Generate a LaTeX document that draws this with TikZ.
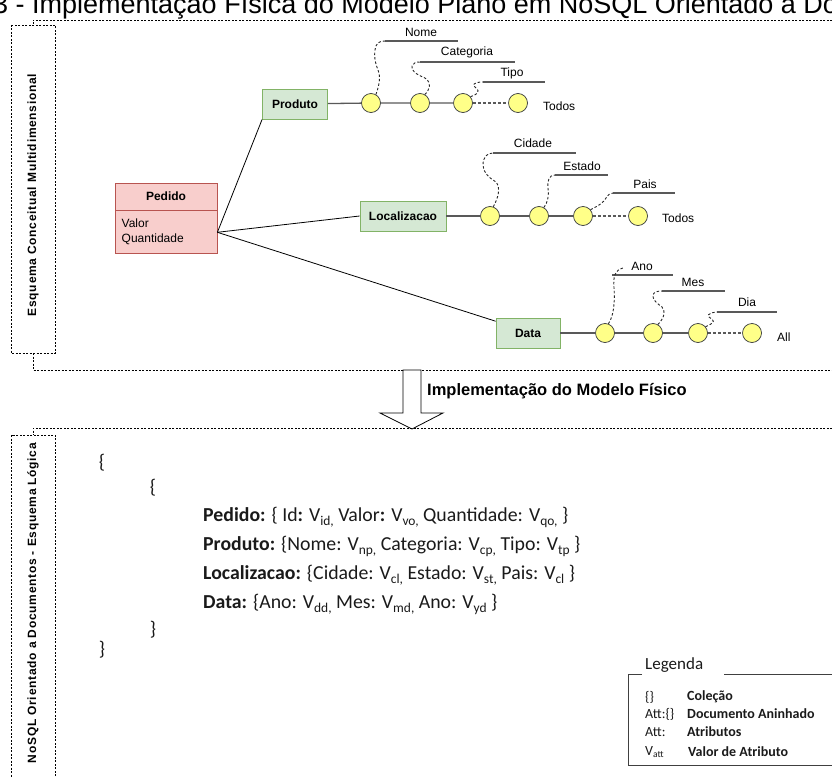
\documentclass[tikz,border=0pt]{standalone}
\usepackage{fontspec}
\setmainfont{Liberation Sans}
\newfontfamily\calfont{Carlito}
\definecolor{pedfill}{HTML}{F8CECC}
\definecolor{pedline}{HTML}{B85450}
\definecolor{dimfill}{HTML}{D5E8D4}
\definecolor{dimline}{HTML}{82B366}
\definecolor{lvlfill}{HTML}{FFFF88}
\definecolor{lvlline}{HTML}{36393D}
\definecolor{chaingray}{HTML}{595959}
\definecolor{codeink}{HTML}{1A1A1A}
\newcommand{\fs}[1]{\fontsize{#1}{#1}\selectfont}
% value with a lowered, reduced index
\newcommand{\vv}[1]{V\raisebox{-0.2em}{\scalebox{0.68}{#1}}}
\tikzset{
  frame/.style={draw=black, line width=0.6pt, dash pattern=on 2pt off 1.5pt},
  sidelabel/.style={rotate=90, inner sep=0, font=\fs{12}\bfseries\addfontfeature{LetterSpace=6}},
  dimbox/.style={draw=dimline, fill=dimfill, line width=0.8pt, font=\fs{12}\bfseries, inner sep=0},
  lvl/.style={circle, draw=lvlline, fill=lvlfill, minimum size=19pt, inner sep=0, line width=0.7pt},
  chain/.style={draw=chaingray, line width=1.3pt},
  chaindash/.style={chain, dash pattern=on 3pt off 2pt},
  attcurve/.style={draw=black!85, line width=0.9pt, dash pattern=on 2.5pt off 2pt},
  attline/.style={draw=chaingray, line width=1.2pt},
  attlbl/.style={font=\fs{12}, inner sep=0},
  link/.style={draw=black, line width=0.8pt},
  codeline/.style={anchor=west, inner sep=0, text=codeink, font=\calfont\fs{19.8}},
  legline/.style={draw=black!75, line width=0.9pt},
  legkey/.style={anchor=west, inner sep=0, text=codeink, font=\calfont\fs{14}},
  legdesc/.style={anchor=west, inner sep=0, text=codeink, font=\calfont\fs{14}\bfseries},
}
\begin{document}
\begin{tikzpicture}[x=1pt,y=-1pt]
\useasboundingbox (0,0) rectangle (832,776);
\clip (0,0) rectangle (832,776);

% heading
\node[anchor=base west, font=\fs{27}, inner sep=0] (title) at (-7,14)
  {3 - Implementação Física do Modelo Plano em NoSQL Orientado a Documentos};

% ---------- conceptual frame ----------
\draw[frame] (832,20) -- (33,20) -- (33,25);
\draw[frame] (11,25) rectangle (55,353);
\draw[frame] (33,353) -- (33,370) -- (832,370);
\node[sidelabel] (lblconc) at (33,195) {Esquema Conceitual Multidimensional};

% fact
\node[draw=pedline, fill=pedfill, line width=0.8pt, minimum width=102pt, minimum height=27pt,
      inner sep=0, font=\fs{12}\bfseries] (pedido) at (166,196.5) {Pedido};
\node[draw=pedline, fill=pedfill, line width=0.8pt, minimum width=102pt, minimum height=43pt,
      inner sep=0, anchor=north] (pedbody) at (pedido.south) {};
\node[attlbl, anchor=west] (pvalor) at (121.5,223) {Valor};
\node[attlbl, anchor=west] (pqtd) at (121.5,239) {Quantidade};

% dimensions
\node[dimbox, minimum width=65pt, minimum height=30pt] (produto) at (295,104) {Produto};
\node[dimbox, minimum width=86pt, minimum height=30pt] (loc) at (403,216) {Localizacao};
\node[dimbox, minimum width=64pt, minimum height=30pt] (data) at (528,333) {Data};

\draw[link] (pedbody.east) -- (produto.south west);
\draw[link] (pedbody.east) -- (loc.west);
\draw[link] (pedbody.east) -- (data.160);

% Produto hierarchy
\node[lvl] (p1) at (371,103) {};
\node[lvl] (p2) at (420,103) {};
\node[lvl] (p3) at (463,103) {};
\node[lvl] (p4) at (518,103) {};
\draw[chain] (produto) -- (p1) -- (p2) -- (p3);
\draw[chaindash] (p3) -- (p4);
\node[attlbl, anchor=west] (ptodos) at (543,106) {Todos};

\node[attlbl] (tnome) at (421,32) {Nome};
\coordinate (nome0) at (385,41);
\draw[attline] (nome0) -- ++(73,0);
\draw[attcurve] (p1.60) .. controls (379,86) and (381,77) .. (378,70)
  .. controls (375,63) and (374,56) .. (375,50) .. controls (376,43) and (379,41) .. (nome0);

\node[attlbl] (tcat) at (467,52) {Categoria};
\coordinate (cat0) at (420,62);
\draw[attline] (cat0) -- ++(95,0);
\draw[attcurve] (p2.60) .. controls (430,89) and (432,83) .. (425,78)
  .. controls (415,74) and (411,70) .. (412,66) .. controls (413,63) and (416,62) .. (cat0);

\node[attlbl] (ttipo) at (512,73) {Tipo};
\coordinate (tipo0) at (483,82);
\draw[attline] (tipo0) -- ++(62,0);
\draw[attcurve] (p3.40) .. controls (476,95) and (481,92) .. (476,88)
  .. controls (471,85) and (474,82) .. (tipo0);

% Localizacao hierarchy
\node[lvl] (l1) at (490,216) {};
\node[lvl] (l2) at (539,216) {};
\node[lvl] (l3) at (583,216) {};
\node[lvl] (l4) at (638,216) {};
\draw[chain] (loc) -- (l1) -- (l2) -- (l3);
\draw[chaindash] (l3) -- (l4);
\node[attlbl, anchor=west] (ltodos) at (662,218) {Todos};

\node[attlbl] (tcid) at (533,143) {Cidade};
\coordinate (cid0) at (493,153);
\draw[attline] (cid0) -- ++(83,0);
\draw[attcurve] (l1.70) .. controls (498,198) and (501,188) .. (496,182)
  .. controls (488,177) and (483,172) .. (483,165) .. controls (483,157) and (487,153) .. (cid0);

\node[attlbl] (test) at (582,166) {Estado};
\coordinate (est0) at (555,175);
\draw[attline] (est0) -- ++(53,0);
\draw[attcurve] (l2.60) .. controls (548,202) and (549,195) .. (548,188)
  .. controls (547,181) and (549,175) .. (est0);

\node[attlbl] (tpais) at (645,184) {Pais};
\coordinate (pais0) at (613,193);
\draw[attline] (pais0) -- ++(62,0);
\draw[attcurve] (l3.40) .. controls (600,205) and (604,202) .. (606,198)
  .. controls (608,195) and (610,193) .. (pais0);

% Data hierarchy
\node[lvl] (d1) at (605,333) {};
\node[lvl] (d2) at (653,333) {};
\node[lvl] (d3) at (698,333) {};
\node[lvl] (d4) at (752,333) {};
\draw[chain] (data) -- (d1) -- (d2) -- (d3);
\draw[chaindash] (d3) -- (d4);
\node[attlbl, anchor=west] (dall) at (777,337) {All};

\node[attlbl] (tano) at (642,266) {Ano};
\coordinate (ano0) at (612,275);
\coordinate (anoend) at (623,268);
\draw[attline] (ano0) -- ++(61,0);
\draw[attcurve] (d1.70) .. controls (614,316) and (615,300) .. (614,288)
  .. controls (613,276) and (615,270) .. (anoend);

\node[attlbl] (tmes) at (693,282) {Mes};
\coordinate (mes0) at (662,291);
\draw[attline] (mes0) -- ++(63,0);
\draw[attcurve] (d2.60) .. controls (664,318) and (666,312) .. (662,307)
  .. controls (655,302) and (653,299) .. (653,296) .. controls (653,292) and (657,291) .. (mes0);

\node[attlbl] (tdia) at (747,302) {Dia};
\coordinate (dia0) at (717,312);
\draw[attline] (dia0) -- ++(60,0);
\draw[attcurve] (d3.40) .. controls (710,325) and (716,322) .. (712,319)
  .. controls (706,316) and (707,313) .. (dia0);

% ---------- transition ----------
\draw[draw=black, fill=white, line width=0.8pt]
  (403,370) -- (421,370) -- (421,413) -- (443,413) -- (412,429) -- (380,413) -- (403,413) -- cycle;
\node[anchor=west, inner sep=0, font=\fs{16.5}\bfseries] (impl) at (427,391.5) {Implementação do Modelo Físico};

% ---------- document frame ----------
\draw[frame] (832,428) -- (33,428) -- (33,435);
\draw[frame] (11,435) rectangle (55,790);
\node[sidelabel] (lbldoc) at (33,603) {NoSQL Orientado a Documentos - Esquema Lógica};

\node[codeline, anchor=center] (b1) at (102,463) {\{};
\node[codeline, anchor=center] (b2) at (153,488) {\{};
\node[codeline] (cped) at (203,517)
  {\textbf{Pedido:} \{ Id\textbf{:} \vv{id,} Valor\textbf{:} \vv{vo,} Quantidade: \vv{qo,} \}};
\node[codeline] (cprod) at (203,546)
  {\textbf{Produto:} \{Nome: \vv{np,} Categoria: \vv{cp,} Tipo: \vv{tp} \}};
\node[codeline] (cloc) at (203,575)
  {\textbf{Localizacao:} \{Cidade: \vv{cl,} Estado: \vv{st,} Pais: \vv{cl} \}};
\node[codeline] (cdata) at (203,604)
  {\textbf{Data:} \{Ano: \vv{dd,} Mes: \vv{md,} Ano: \vv{yd} \}};
\node[codeline, anchor=center] (b3) at (153,630) {\}};
\node[codeline, anchor=center] (b4) at (102,650) {\}};

% legend
\node[anchor=west, inner sep=0, text=codeink, font=\calfont\fs{17}] (legtitle) at (645,665) {Legenda};
\draw[legline] (642,674) -- (628,674) -- (628,765) -- (840,765);
\draw[legline] (724,674) -- (840,674);
\node[legkey] (k1) at (645,697) {\{\}};
\node[legdesc] (e1) at (687,697) {Coleção};
\node[legkey] (k2) at (645,714) {Att:\{\}};
\node[legdesc] (e2) at (687,714) {Documento Aninhado};
\node[legkey] (k3) at (645,732) {Att:};
\node[legdesc] (e3) at (687,732) {Atributos};
\node[legkey] (k4) at (645,752) {\vv{att}};
\node[legdesc] (e4) at (688,752) {Valor de Atributo};
\end{tikzpicture}
\end{document}
